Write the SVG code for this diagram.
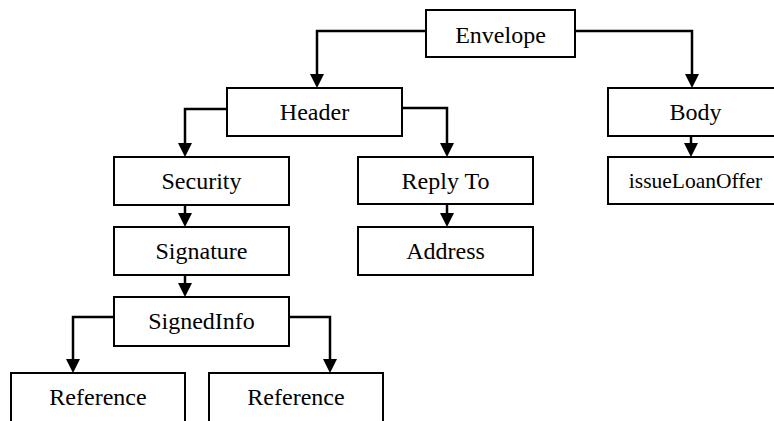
<svg xmlns="http://www.w3.org/2000/svg" width="774" height="421" viewBox="0 0 774 421">
<defs>
<style>
.box{fill:#fff;stroke:#000;stroke-width:2}
.con{fill:none;stroke:#000;stroke-width:2.5}
.head{fill:#000}
</style>
</defs>
<rect width="774" height="421" fill="#fff"/>
<g id="connectors">
<path class="con" d="M426,31 H317 V74"/>
<path class="con" d="M575,31 H692 V74"/>
<path class="con" d="M227,109 H185 V143"/>
<path class="con" d="M402,108 H447 V143"/>
<path class="con" d="M185,205 V213"/>
<path class="con" d="M185,275 V283"/>
<path class="con" d="M114,317 H73 V359"/>
<path class="con" d="M289,317 H330 V359"/>
<path class="con" d="M447,204 V213"/>
<path class="con" d="M691,136 V143"/>
<polygon class="head" points="310,74 324,74 317,88"/>
<polygon class="head" points="685,74 699,74 692,88"/>
<polygon class="head" points="178,143 192,143 185,157"/>
<polygon class="head" points="440,143 454,143 447,157"/>
<polygon class="head" points="178,213 192,213 185,227"/>
<polygon class="head" points="178,283 192,283 185,297"/>
<polygon class="head" points="66,359 80,359 73,373"/>
<polygon class="head" points="323,359 337,359 330,373"/>
<polygon class="head" points="440,213 454,213 447,227"/>
<polygon class="head" points="684,143 698,143 691,157"/>
</g>
<g font-family="Liberation Serif, Times New Roman, serif" font-size="24" text-anchor="middle" fill="#000">
<g id="envelope"><rect class="box" x="426" y="10" width="149" height="47"/><text x="500.5" y="43">Envelope</text></g>
<g id="header"><rect class="box" x="227" y="88" width="175" height="48"/><text x="314.5" y="120">Header</text></g>
<g id="body"><rect class="box" x="608" y="88" width="175" height="48"/><text x="695.5" y="120">Body</text></g>
<g id="security"><rect class="box" x="114" y="157" width="175" height="48"/><text x="201.5" y="189">Security</text></g>
<g id="replyto"><rect class="box" x="358" y="157" width="175" height="47"/><text x="445.5" y="189">Reply To</text></g>
<g id="issueloanoffer"><rect class="box" x="608" y="157" width="175" height="47"/><text x="695.5" y="188" font-size="21.5">issueLoanOffer</text></g>
<g id="signature"><rect class="box" x="114" y="227" width="175" height="48"/><text x="201.5" y="259">Signature</text></g>
<g id="address"><rect class="box" x="358" y="227" width="175" height="48"/><text x="445.5" y="259">Address</text></g>
<g id="signedinfo"><rect class="box" x="114" y="297" width="175" height="49"/><text x="201.5" y="329">SignedInfo</text></g>
<g id="reference1"><rect class="box" x="11" y="373" width="174" height="50"/><text x="98" y="405">Reference</text></g>
<g id="reference2"><rect class="box" x="209" y="373" width="174" height="50"/><text x="296" y="405">Reference</text></g>
</g>
</svg>
